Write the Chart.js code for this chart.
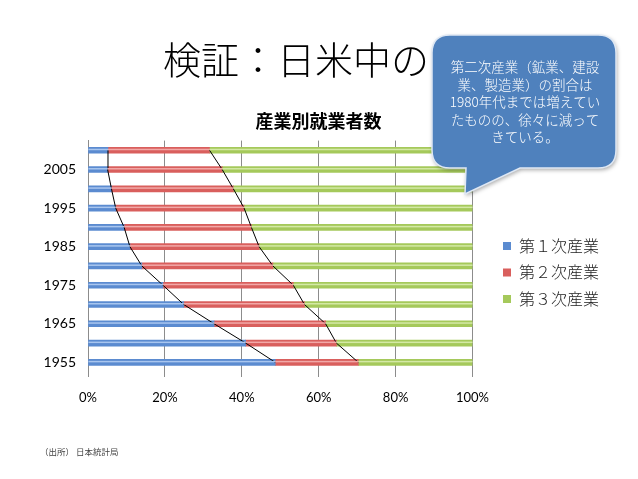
<!DOCTYPE html>
<html>
<head>
<meta charset="utf-8">
<script src="https://cdn.jsdelivr.net/npm/chart.js@4"></script>
<style>
  html, body { margin: 0; padding: 0; background: #fff; }
  #wrap { width: 638px; height: 479px; position: relative; }
</style>
</head>
<body>
<div id="wrap"><canvas id="grafico"></canvas></div>
<script>
// --- dados (% de trabalhadores por sector) ---
const anos = ['1955', '1960', '1965', '1970', '1975', '1980', '1985', '1990', '1995', '2000', '2005', '2010'];
const primario = [48.7, 41.0, 32.8, 24.9, 19.5, 14.0, 10.9, 9.4, 7.2, 6.1, 5.1, 5.2];
const secundario = [21.6, 23.6, 29.0, 31.4, 33.9, 34.1, 33.6, 33.1, 33.4, 31.7, 29.8, 26.4];
const terciario = [29.7, 35.4, 38.2, 43.7, 46.6, 51.9, 55.5, 57.5, 59.4, 62.2, 65.1, 68.4];
const nomesSeries = ['第１次産業', '第２次産業', '第３次産業'];

const tituloSlide = '検証：日米中の';
const tituloGrafico = '産業別就業者数';
const textoBalao = ['第二次産業（鉱業、建設', '業、製造業）の割合は', '1980年代までは増えてい', 'たものの、徐々に減って', 'きている。'];
const fonte = '（出所） 日本統計局';

// linhas pretas que ligam os limites entre sectores
const limite1 = primario.slice();
const limite2 = primario.map((v, i) => v + secundario[i]);

const cores = ['#5b8bd0', '#d95f5d', '#a5c95b'];
const brilho = ['#a9c6ef', '#f2a9a8', '#d4e9a6'];
const fonteCJK = "'Noto Sans CJK JP', 'Noto Sans', sans-serif";
const fonteNum = "Lato, 'Open Sans', sans-serif";

// --- PLUGIN: brilho das barras (efeito cilindro) ---
const brilhoBarras = {
    id: 'brilhoBarras',
    afterDatasetsDraw(chart) {
        const ctx = chart.ctx;
        [0, 1, 2].forEach(d => {
            chart.getDatasetMeta(d).data.forEach(bar => {
                const left = Math.min(bar.x, bar.base);
                const right = Math.max(bar.x, bar.base);
                ctx.save();
                ctx.fillStyle = brilho[d];
                ctx.fillRect(left, bar.y - 1.5, right - left, 1.5);
                ctx.restore();
            });
        });
    }
};

// --- PLUGIN: afasta a legenda e centra o título no slide ---
const ajustarCaixas = {
    id: 'ajustarCaixas',
    afterLayout(chart) {
        if (chart.legend) {
            chart.legend.left += 20;
            chart.legend.right += 20;
        }
        if (chart.titleBlock) {
            chart.titleBlock.left += 24;
            chart.titleBlock.right += 24;
        }
    }
};

// --- PLUGIN: título do slide, balão e nota de fonte ---
const decoracao = {
    id: 'decoracao',
    beforeDraw(chart) {
        const ctx = chart.ctx;
        ctx.save();
        ctx.fillStyle = '#000';
        ctx.font = "200 38px " + fonteCJK;
        ctx.textBaseline = 'middle';
        ctx.fillText(tituloSlide, 163, 60);
        ctx.fillStyle = '#444';
        ctx.font = "8.5px " + fonteCJK;
        ctx.fillText(fonte, 40, 452);
        ctx.restore();
    },
    afterDraw(chart) {
        const ctx = chart.ctx;
        const x0 = 432, y0 = 35, x1 = 616, y1 = 168, r = 18;
        ctx.save();
        ctx.beginPath();
        ctx.moveTo(x0 + r, y0);
        ctx.lineTo(x1 - r, y0);
        ctx.quadraticCurveTo(x1, y0, x1, y0 + r);
        ctx.lineTo(x1, y1 - r);
        ctx.quadraticCurveTo(x1, y1, x1 - r, y1);
        ctx.lineTo(520, y1);
        ctx.lineTo(465, 194);
        ctx.lineTo(466, y1);
        ctx.lineTo(x0 + r, y1);
        ctx.quadraticCurveTo(x0, y1, x0, y1 - r);
        ctx.lineTo(x0, y0 + r);
        ctx.quadraticCurveTo(x0, y0, x0 + r, y0);
        ctx.closePath();
        ctx.shadowColor = 'rgba(0,0,0,0.35)';
        ctx.shadowBlur = 4;
        ctx.shadowOffsetX = 1;
        ctx.shadowOffsetY = 2;
        ctx.fillStyle = '#4f81bd';
        ctx.fill();
        ctx.shadowColor = 'transparent';
        ctx.strokeStyle = '#dfe8f4';
        ctx.lineWidth = 1.5;
        ctx.stroke();
        ctx.fillStyle = '#fff';
        ctx.font = "300 13.5px " + fonteCJK;
        ctx.textAlign = 'center';
        ctx.textBaseline = 'middle';
        textoBalao.forEach((linha, i) => ctx.fillText(linha, 525, 67 + i * 17.5));
        ctx.restore();
    }
};

const datasetsBarras = [primario, secundario, terciario].map((valores, i) => ({
    type: 'bar',
    label: nomesSeries[i],
    data: valores,
    backgroundColor: cores[i],
    borderWidth: 0,
    barThickness: 6,
    order: 2
}));

const datasetsLinhas = [limite1, limite2].map(valores => ({
    type: 'line',
    label: '',
    data: valores,
    xAxisID: 'x2',
    borderColor: '#000',
    borderWidth: 1,
    pointRadius: 0,
    tension: 0,
    fill: false,
    order: 1
}));

new Chart(document.getElementById('grafico'), {
    type: 'bar',
    data: { labels: anos, datasets: [...datasetsBarras, ...datasetsLinhas] },
    options: {
        indexAxis: 'y',
        responsive: true,
        maintainAspectRatio: false,
        animation: false,
        layout: { padding: { top: 110, left: 0, right: 49, bottom: 0 } },
        plugins: {
            title: {
                display: true,
                text: tituloGrafico,
                font: { family: fonteCJK, size: 18, weight: 'bold' },
                color: '#000',
                padding: { top: 0, bottom: 9 }
            },
            legend: {
                position: 'right',
                align: 'start',
                title: { display: true, text: ' ', padding: { top: 103, bottom: 0 }, font: { size: 12 } },
                labels: {
                    filter: item => item.text !== '',
                    boxWidth: 8,
                    boxHeight: 8,
                    padding: 10.5,
                    color: '#222',
                    font: { family: fonteCJK, size: 16, weight: '300' }
                }
            },
            tooltip: { enabled: false }
        },
        scales: {
            x: {
                stacked: true,
                min: 0,
                max: 100,
                ticks: {
                    stepSize: 20,
                    padding: 13,
                    color: '#000',
                    font: { family: fonteNum, size: 13 },
                    callback: v => v + '%'
                },
                grid: { color: '#8c8c8c', tickLength: 5, tickColor: '#8c8c8c' },
                border: { display: false },
                afterFit: scale => { scale.height = 107; }
            },
            x2: {
                display: false,
                min: 0,
                max: 100,
                stacked: false
            },
            y: {
                stacked: true,
                reverse: true,
                grid: { display: false },
                border: { display: true, color: '#8c8c8c' },
                ticks: {
                    autoSkip: false,
                    padding: 4,
                    color: '#000',
                    font: { family: fonteNum, size: 14 },
                    callback: (v, i) => (i % 2 === 0 ? anos[i] : '')
                },
                afterFit: scale => { scale.width = 88; }
            }
        }
    },
    plugins: [brilhoBarras, ajustarCaixas, decoracao]
});
</script>
</body>
</html>
